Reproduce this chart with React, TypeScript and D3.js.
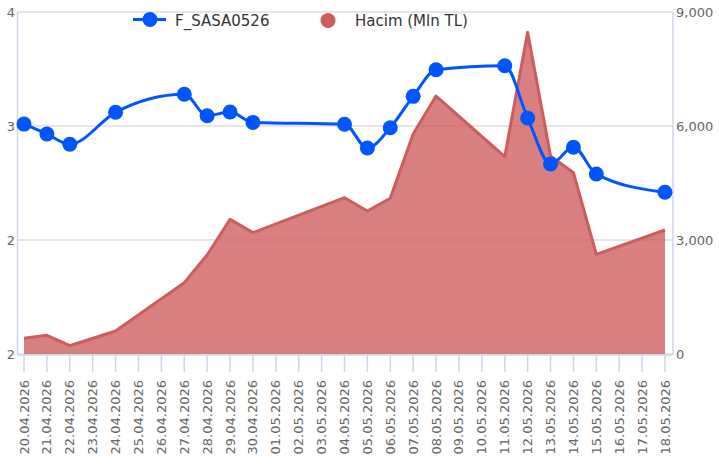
import React from "react";
import * as d3 from "d3";

const allDates = [
  "20.04.2026","21.04.2026","22.04.2026","23.04.2026","24.04.2026","25.04.2026","26.04.2026",
  "27.04.2026","28.04.2026","29.04.2026","30.04.2026","01.05.2026","02.05.2026","03.05.2026",
  "04.05.2026","05.05.2026","06.05.2026","07.05.2026","08.05.2026","09.05.2026","10.05.2026",
  "11.05.2026","12.05.2026","13.05.2026","14.05.2026","15.05.2026","16.05.2026","17.05.2026",
  "18.05.2026",
];

const tradeDates = [
  "20.04.2026","21.04.2026","22.04.2026","24.04.2026","27.04.2026","28.04.2026","29.04.2026",
  "30.04.2026","04.05.2026","05.05.2026","06.05.2026","07.05.2026","08.05.2026","11.05.2026",
  "12.05.2026","13.05.2026","14.05.2026","15.05.2026","18.05.2026",
];

const priceValues = [
  3.01, 2.958, 2.904, 3.072, 3.167, 3.054, 3.074, 3.019, 3.009, 2.884, 2.991, 3.156, 3.296,
  3.317, 3.042, 2.8, 2.888, 2.747, 2.651,
];

const volumeValues = [
  413, 492, 218, 605, 1877, 2605, 3545, 3193, 4113, 3763, 4100, 5790, 6789, 5193, 8466, 5210,
  4772, 2623, 3263,
];

const leftTickValues = [3.6, 3.0, 2.4, 1.8];
const leftTickLabels = ["4", "3", "2", "2"];
const rightTickValues = [9000, 6000, 3000, 0];

const seriesNames = ["F_SASA0526", "Hacim (Mln TL)"];

const W = 719;
const H = 470;
const plotLeft = 17.5;
const plotRight = 673;
const plotTop = 12;
const plotBottom = 354;
const FONT = "'DejaVu Sans', Verdana, sans-serif";

export default function App() {
  const x = d3.scalePoint<string>().domain(allDates).range([24, 665]);
  const yL = d3.scaleLinear().domain([1.8, 3.6]).range([plotBottom, plotTop]);
  const yR = d3.scaleLinear().domain([0, 9000]).range([plotBottom, plotTop]);

  const pricePts = tradeDates.map((d, i) => [x(d)!, yL(priceValues[i])] as [number, number]);
  const volPts = tradeDates.map((d, i) => [x(d)!, yR(volumeValues[i])] as [number, number]);

  const areaGen = d3
    .area<[number, number]>()
    .x((p) => p[0])
    .y0(yR(0))
    .y1((p) => p[1]);
  const volLine = d3
    .line<[number, number]>()
    .x((p) => p[0])
    .y((p) => p[1]);
  const priceLine = d3
    .line<[number, number]>()
    .x((p) => p[0])
    .y((p) => p[1])
    .curve(d3.curveMonotoneX);

  const fmt = d3.format(",");

  return (
    <svg width={W} height={H} style={{ position: "absolute", left: 0, top: 0, display: "block" }}>
      <rect x={0} y={0} width={W} height={H} fill="#ffffff" />
      {/* grid */}
      {rightTickValues.map((v) => (
        <line key={"g" + v} x1={plotLeft} x2={plotRight} y1={yR(v)} y2={yR(v)} stroke="#e6e6e6" strokeWidth={2} />
      ))}
      {/* area */}
      <path d={areaGen(volPts)!} fill="#cd5c5c" fillOpacity={0.78} />
      <path d={volLine(volPts)!} fill="none" stroke="#cd5c5c" strokeWidth={3} strokeLinejoin="round" />
      {/* axes lines */}
      <line x1={plotLeft} x2={plotLeft} y1={plotTop} y2={plotBottom + 1} stroke="#ccd6eb" strokeWidth={1.5} />
      <line x1={plotRight} x2={plotRight} y1={plotTop} y2={plotBottom + 1} stroke="#ccd6eb" strokeWidth={1.5} />
      <line x1={plotLeft} x2={plotRight} y1={plotBottom + 1} y2={plotBottom + 1} stroke="#ccd6eb" strokeWidth={1.5} />
      {allDates.map((d) => (
        <line key={"t" + d} x1={x(d)!} x2={x(d)!} y1={plotBottom + 1} y2={plotBottom + 18} stroke="#ccd6eb" strokeWidth={1.5} />
      ))}
      {/* price line */}
      <path d={priceLine(pricePts)!} fill="none" stroke="#0055ff" strokeWidth={3} strokeLinejoin="round" />
      {pricePts.map((p, i) => (
        <circle key={"m" + i} cx={p[0]} cy={p[1]} r={7.5} fill="#0055ff" />
      ))}
      {/* left labels */}
      {leftTickValues.map((v, i) => (
        <text key={"l" + v} x={15} y={yL(v)} dy="0.36em" textAnchor="end" fontSize={13} fill="#666666" fontFamily={FONT}>
          {leftTickLabels[i]}
        </text>
      ))}
      {/* right labels */}
      {rightTickValues.map((v) => (
        <text key={"r" + v} x={676} y={yR(v)} dy="0.36em" textAnchor="start" fontSize={13} fill="#666666" fontFamily={FONT}>
          {fmt(v)}
        </text>
      ))}
      {/* x labels */}
      {allDates.map((d) => (
        <text
          key={"x" + d}
          transform={`translate(${x(d)! + 4.5},380) rotate(-90)`}
          textAnchor="end"
          fontSize={13}
          fill="#666666"
          fontFamily={FONT}
        >
          {d}
        </text>
      ))}
      {/* legend */}
      <line x1={133} x2={166} y1={19.5} y2={19.5} stroke="#0055ff" strokeWidth={3} />
      <circle cx={150} cy={19.5} r={7.5} fill="#0055ff" />
      <text x={175} y={25.5} fontSize={15} fill="#333333" fontFamily={FONT}>
        {seriesNames[0]}
      </text>
      <circle cx={328} cy={20.5} r={7.5} fill="#cd5c5c" />
      <text x={355} y={25.5} fontSize={15} fill="#333333" fontFamily={FONT}>
        {seriesNames[1]}
      </text>
    </svg>
  );
}
